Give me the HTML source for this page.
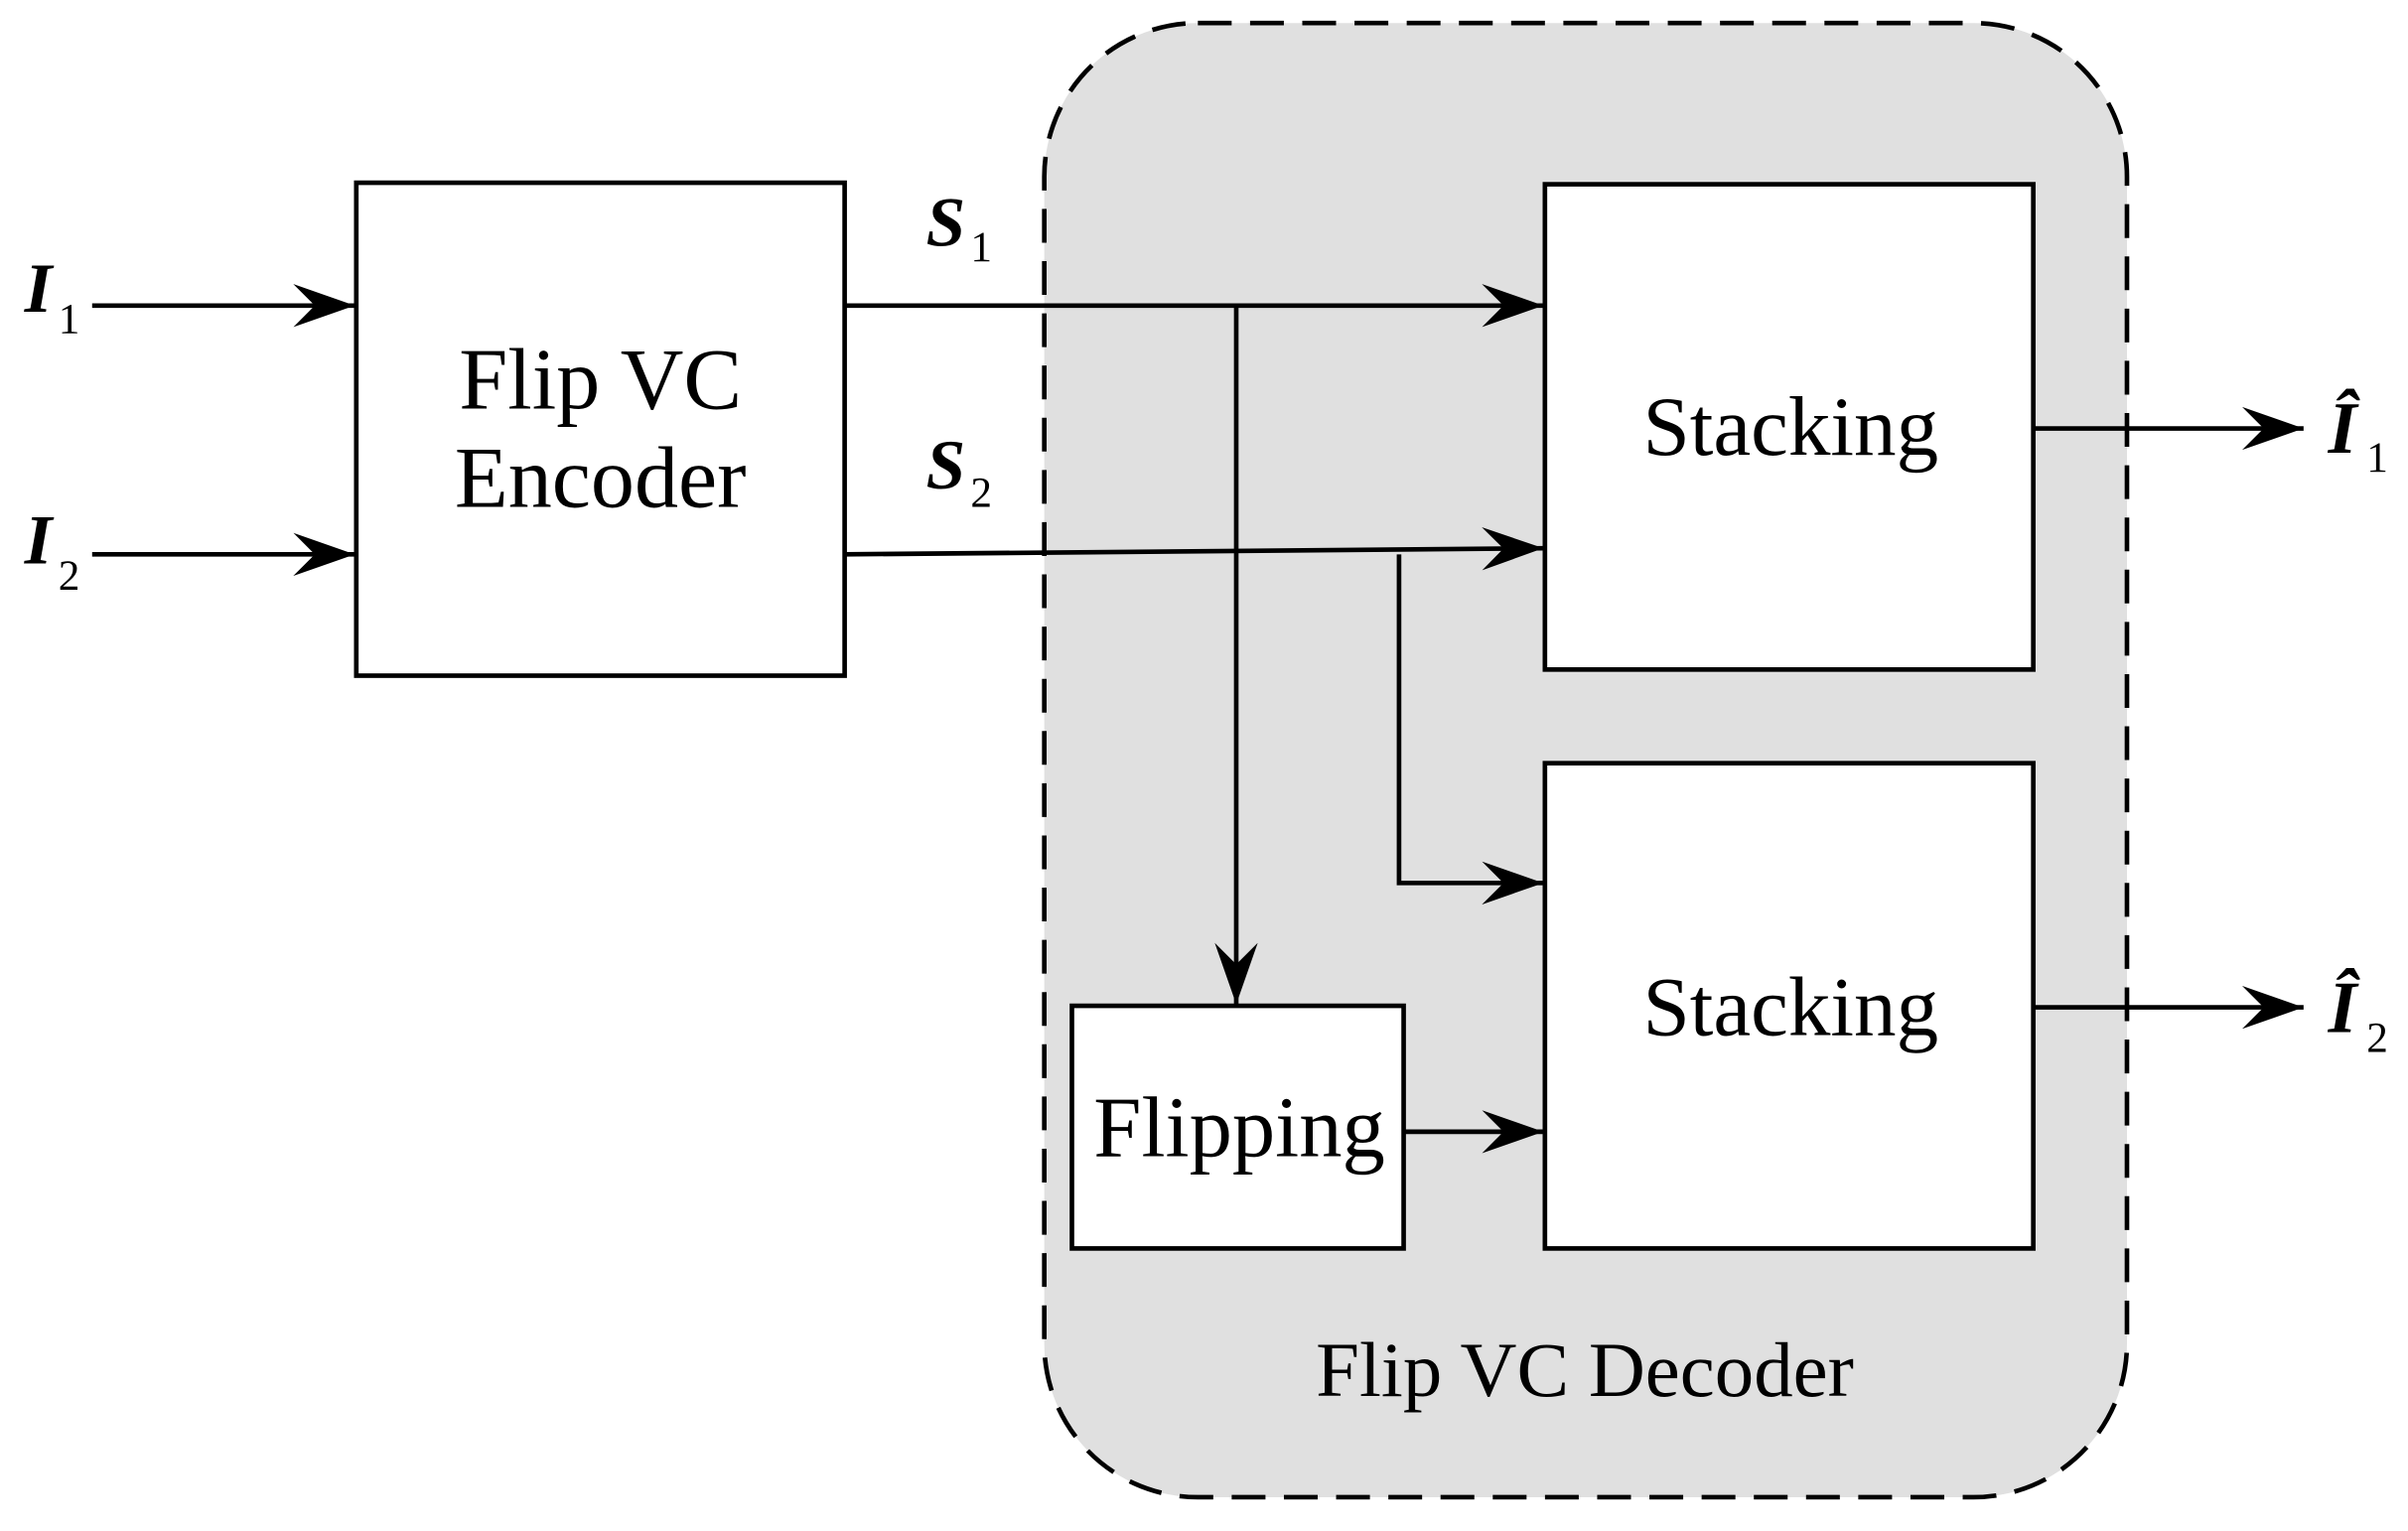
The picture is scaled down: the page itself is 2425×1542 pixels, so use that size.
<!DOCTYPE html>
<html><head><style>html,body{margin:0;padding:0;background:#fff}svg{display:block}</style></head>
<body>
<svg width="2425" height="1542" viewBox="0 0 1568 997" preserveAspectRatio="none" xmlns="http://www.w3.org/2000/svg">
<defs>
<marker id="a" markerUnits="userSpaceOnUse" markerWidth="42" markerHeight="30" refX="40" refY="14" orient="auto">
<path d="M0,0 L40,14 L0,28 L14,14 Z" fill="#000"/>
</marker>
</defs>
<rect x="680" y="15" width="705" height="960" rx="100" ry="100" fill="#e0e0e0" stroke="#000" stroke-width="3" stroke-dasharray="22,12"/>
<g fill="#fff" stroke="#000" stroke-width="3">
<rect x="232" y="119" width="318" height="321"/>
<rect x="1006" y="120" width="318" height="316"/>
<rect x="1006" y="497" width="318" height="316"/>
<rect x="698" y="655" width="216" height="158"/>
</g>
<g stroke="#000" stroke-width="3" fill="none">
<line x1="60" y1="199" x2="231" y2="199" marker-end="url(#a)"/>
<line x1="60" y1="361" x2="231" y2="361" marker-end="url(#a)"/>
<line x1="550" y1="199" x2="1005" y2="199" marker-end="url(#a)"/>
<line x1="550" y1="361" x2="1005" y2="357" marker-end="url(#a)"/>
<line x1="805" y1="199" x2="805" y2="654" marker-end="url(#a)"/>
<polyline points="911,361 911,575 1005,575" marker-end="url(#a)"/>
<line x1="914" y1="737" x2="1005" y2="737" marker-end="url(#a)"/>
<line x1="1324" y1="279" x2="1500" y2="279" marker-end="url(#a)"/>
<line x1="1324" y1="656" x2="1500" y2="656" marker-end="url(#a)"/>
</g>
<g font-family="'Liberation Serif',serif" text-anchor="middle" fill="#000">
<text x="391" y="266" font-size="57">Flip VC</text>
<text x="391" y="330" font-size="57">Encoder</text>
<text x="1166" y="296" font-size="55">Stacking</text>
<text x="1166" y="674" font-size="55">Stacking</text>
<text x="807" y="753" font-size="56">Flipping</text>
<text x="1032" y="909" font-size="51">Flip VC Decoder</text>
</g>
<g font-family="'Liberation Serif',serif" fill="#000">
<text x="16" y="203" font-size="46" font-weight="bold" font-style="italic">I</text>
<text x="38" y="217" font-size="28">1</text>
<text x="16" y="367" font-size="46" font-weight="bold" font-style="italic">I</text>
<text x="38" y="384" font-size="28">2</text>
<text x="603" y="160" font-size="46" font-weight="bold" font-style="italic">S</text>
<text x="632" y="170" font-size="28">1</text>
<text x="603" y="318" font-size="46" font-weight="bold" font-style="italic">S</text>
<text x="632" y="330" font-size="28">2</text>
<text x="1516" y="295" font-size="48" font-weight="bold" font-style="italic">Î</text>
<text x="1541" y="307" font-size="28">1</text>
<text x="1516" y="672" font-size="48" font-weight="bold" font-style="italic">Î</text>
<text x="1541" y="685" font-size="28">2</text>
</g>
</svg>
</body></html>
